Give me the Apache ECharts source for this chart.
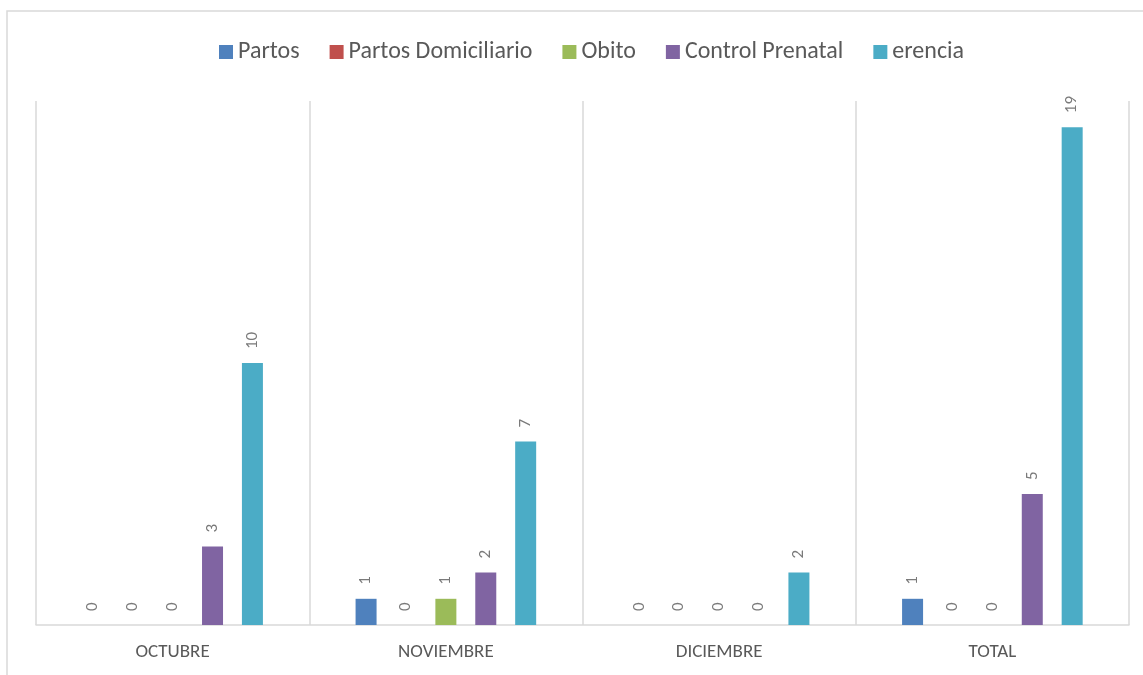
<!DOCTYPE html>
<html><head><meta charset="utf-8">
<script src="https://cdn.jsdelivr.net/npm/echarts@6/dist/echarts.min.js"></script>
<style>html,body{margin:0;padding:0;background:#fff}#c{width:1143px;height:675px}</style>
</head><body><div id="c"></div>
<script>
const categories = ['OCTUBRE', 'NOVIEMBRE', 'DICIEMBRE', 'TOTAL'];
const seriesNames = ['Partos', 'Partos Domiciliario', 'Obito', 'Control Prenatal', 'erencia'];
const partos = [0, 1, 0, 1];
const partosDomiciliario = [0, 0, 0, 0];
const obito = [0, 1, 0, 0];
const controlPrenatal = [3, 2, 0, 5];
const erencia = [10, 7, 2, 19];
const colors = ['#4F81BD', '#C0504D', '#9BBB59', '#8064A2', '#4BACC6'];

const FONT = 'Carlito, Lato, "Open Sans", sans-serif';
const dataSets = [partos, partosDomiciliario, obito, controlPrenatal, erencia];
const chart = echarts.init(document.getElementById('c'), null, {renderer: 'canvas'});
chart.setOption({
  animation: false,
  backgroundColor: '#fff',
  color: colors,
  graphic: [{
    type: 'rect', silent: true, z: -1,
    shape: {x: 7, y: 11, width: 1160, height: 700},
    style: {fill: 'none', stroke: '#d9d9d9', lineWidth: 1.5}
  }],
  legend: {
    top: 35, left: 214,
    itemWidth: 14, itemHeight: 14, itemGap: 30,
    icon: 'rect',
    textStyle: {color: '#595959', fontSize: 24, fontFamily: FONT},
    data: seriesNames
  },
  grid: {left: 36, right: 14, top: 101, bottom: 50, containLabel: false},
  xAxis: {
    type: 'category', data: categories,
    axisLine: {show: true, lineStyle: {color: '#d9d9d9', width: 1.5}},
    axisTick: {show: false},
    splitLine: {show: true, lineStyle: {color: '#d9d9d9', width: 1.5}},
    axisLabel: {color: '#595959', fontSize: 19, fontFamily: FONT, margin: 18, interval: 0}
  },
  yAxis: {type: 'value', min: 0, max: 20, show: false, splitLine: {show: false}},
  series: seriesNames.map((n, i) => ({
    name: n, type: 'bar', data: dataSets[i],
    barWidth: 21, barGap: '90%',
    itemStyle: {color: colors[i]},
    label: {
      show: true, position: 'top', rotate: 90, distance: 14,
      align: 'left', verticalAlign: 'middle',
      color: '#7a7a7a', fontSize: 17, fontFamily: FONT
    }
  }))
});
</script></body></html>
